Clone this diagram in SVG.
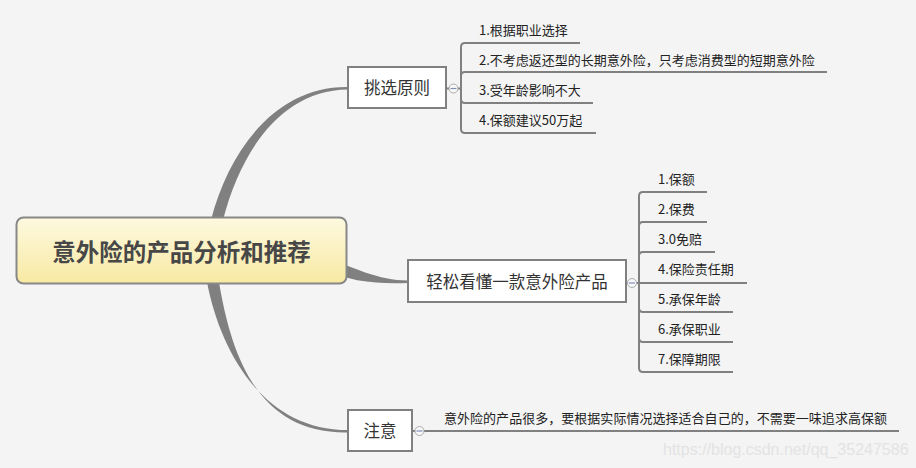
<svg xmlns="http://www.w3.org/2000/svg" width="916" height="468" viewBox="0 0 916 468">
<defs>
<linearGradient id="cg" x1="0" y1="0" x2="0" y2="1">
<stop offset="0" stop-color="#fdf9e0"/>
<stop offset="1" stop-color="#f8e9a2"/>
</linearGradient>
<style>
.br{fill:none;stroke:#808080;stroke-width:2}
.main{fill:#808080}
.topic{fill:#ffffff;stroke:#808080;stroke-width:2}
.tt{font-family:"Noto Sans CJK SC","Microsoft YaHei",sans-serif;font-size:16.5px;fill:#333;text-anchor:middle}
.st{font-family:"Noto Sans CJK SC","Microsoft YaHei",sans-serif;font-size:13px;fill:#222}
.col{fill:#f8f8f8;stroke:#aaaaaa;stroke-width:1}
.minus{stroke:#8090b8;stroke-width:1.2}
</style>
</defs>
<rect width="916" height="468" fill="#f4f4f4"/>

<g id="connectors">
<path class="main" d="M211 220 C229 150 276 86 348 87 L348 89.5 C282 90 241 150 223 220 Z"/>
<path class="main" d="M320 255 C355 268 378 280.5 408 280.5 L408 283 C376 284 350 282 320 268 Z"/>
<path class="main" d="M207 282 C220 350 262 430 348 430 L348 432.5 C260 434 232 360 219 282 Z"/>

<path class="br" d="M446 88.5 H449"/>
<path class="br" d="M458 88.5 H461"/>
<path class="br" d="M461 88.5 V47 Q461 43 465 43 H580"/>
<path class="br" d="M461 88.5 V76 Q461 72 465 72 H827"/>
<path class="br" d="M461 88.5 V99 Q461 103 465 103 H593"/>
<path class="br" d="M461 88.5 V129 Q461 133 465 133 H596"/>

<path class="br" d="M626 283 H628"/>
<path class="br" d="M636.5 283 H639"/>
<path class="br" d="M639 283 V196 Q639 192 643 192 H707"/>
<path class="br" d="M639 283 V226 Q639 222 643 222 H707"/>
<path class="br" d="M639 283 V256 Q639 252 643 252 H715"/>
<path class="br" d="M639 283 H747"/>
<path class="br" d="M639 283 V308 Q639 312 643 312 H733"/>
<path class="br" d="M639 283 V338 Q639 342 643 342 H733"/>
<path class="br" d="M639 283 V368 Q639 372 643 372 H733"/>

<path class="br" d="M412 431 H415"/>
<path class="br" d="M424 431 H899"/>
</g>

<g id="central">
<rect x="16.5" y="217.5" width="330" height="66" rx="7" fill="url(#cg)" stroke="#888888" stroke-width="2"/>
<text x="181.5" y="261" font-family="'Noto Sans CJK SC','Microsoft YaHei',sans-serif" font-size="23.5" font-weight="bold" fill="#474747" text-anchor="middle">意外险的产品分析和推荐</text>
</g>

<g id="topic1">
<rect class="topic" x="348" y="67" width="98" height="41"/>
<text class="tt" x="397" y="94">挑选原则</text>
<circle class="col" cx="453.5" cy="88.5" r="4.5"/>
<line class="minus" x1="450.5" y1="88.5" x2="456.5" y2="88.5"/>
</g>
<g id="t1s1"><text class="st" x="479" y="35">1.根据职业选择</text></g>
<g id="t1s2"><text class="st" x="479" y="65">2.不考虑返还型的长期意外险，只考虑消费型的短期意外险</text></g>
<g id="t1s3"><text class="st" x="479" y="95">3.受年龄影响不大</text></g>
<g id="t1s4"><text class="st" x="479" y="125">4.保额建议50万起</text></g>

<g id="topic2">
<rect class="topic" x="408" y="260" width="218" height="42"/>
<text class="tt" x="517" y="288">轻松看懂一款意外险产品</text>
<circle class="col" cx="632" cy="283" r="4.5"/>
<line class="minus" x1="629" y1="283" x2="635" y2="283"/>
</g>
<g id="t2s1"><text class="st" x="658" y="184">1.保额</text></g>
<g id="t2s2"><text class="st" x="658" y="214">2.保费</text></g>
<g id="t2s3"><text class="st" x="658" y="244">3.0免赔</text></g>
<g id="t2s4"><text class="st" x="658" y="274">4.保险责任期</text></g>
<g id="t2s5"><text class="st" x="658" y="304">5.承保年龄</text></g>
<g id="t2s6"><text class="st" x="658" y="334">6.承保职业</text></g>
<g id="t2s7"><text class="st" x="658" y="364">7.保障期限</text></g>

<g id="topic3">
<rect class="topic" x="348" y="410" width="64" height="41"/>
<text class="tt" x="380" y="437">注意</text>
<circle class="col" cx="419.5" cy="431" r="4.5"/>
<line class="minus" x1="416.5" y1="431" x2="422.5" y2="431"/>
</g>
<g id="t3s1"><text class="st" x="444" y="423" textLength="443">意外险的产品很多，要根据实际情况选择适合自己的，不需要一味追求高保额</text></g>

<text x="663" y="455" font-family="'Liberation Sans',Arial,sans-serif" font-size="16" fill="#e3e3e3">https://blog.csdn.net/qq_35247586</text>
</svg>
